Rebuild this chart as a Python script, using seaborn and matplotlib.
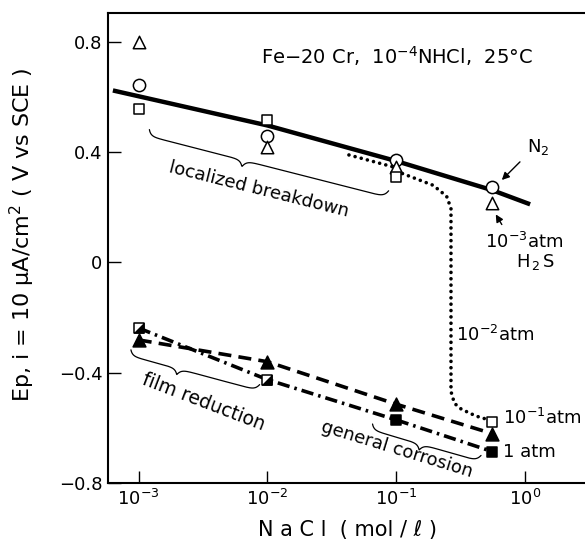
import numpy as np
import pandas as pd
import matplotlib
matplotlib.use("Agg")
import matplotlib.pyplot as plt
from matplotlib.ticker import FixedLocator, NullLocator
import seaborn as sns

# ---------------- data ----------------
nacl = [1e-3, 1e-2, 1e-1, 0.56]                    # NaCl (mol/l)
n2_ep = [0.645, 0.46, 0.37, 0.273]                 # N2, open circles
h2s_1e3_ep = [0.80, 0.42, 0.345, 0.215]            # 1e-3 atm H2S, open triangles
h2s_1e2_ep = [0.555, 0.515, 0.31, -0.58]           # 1e-2 atm H2S, open squares
h2s_1e1_ep = [-0.281, -0.36, -0.514, -0.621]       # 1e-1 atm H2S, filled triangles
h2s_1_ep = [-0.238, -0.425, -0.571, -0.686]        # 1 atm H2S, squares

# N2 / 1e-3 atm regression line
n2_line_x = [6.3e-4, 1e-2, 1e-1, 0.56, 1.1]
n2_line_y = [0.624, 0.497, 0.368, 0.262, 0.211]
# 1e-2 atm transition curve (dotted)
dot_x = [0.043, 0.0926, 0.11, 0.194, 0.247, 0.267, 0.267, 0.284, 0.321, 0.417, 0.525, 0.56]
dot_y = [0.39, 0.348, 0.324, 0.28, 0.24, 0.196, -0.468, -0.511, -0.532, -0.557, -0.571, -0.58]

x_ticks = [1e-3, 1e-2, 1e-1, 1.0]
x_tick_labels = [r"$10^{-3}$", r"$10^{-2}$", r"$10^{-1}$", r"$10^{0}$"]
y_ticks = [0.8, 0.4, 0.0, -0.4, -0.8]
y_tick_labels = ["0.8", "0.4", "0", "\u22120.4", "\u22120.8"]

# ---------------- style ----------------
sns.set_style("ticks")
plt.rcParams["font.family"] = ["DejaVu Sans"]
plt.rcParams["mathtext.fontset"] = "dejavusans"
plt.rcParams["text.color"] = "black"
plt.rcParams["axes.labelcolor"] = "black"
plt.rcParams["xtick.color"] = "black"
plt.rcParams["ytick.color"] = "black"

fig = plt.figure(figsize=(5.85, 5.41), dpi=100)
ax = fig.add_axes([0.1846, 0.1072, 0.8154, 0.8688])
ax.set_xscale("log")
ax.set_xlim(5.77e-4, 2.937)
ax.set_ylim(-0.8, 0.905)

K = "black"
LW = 2.6

def line(x, y, **kw):
    df = pd.DataFrame({"x": x, "y": y})
    sns.lineplot(data=df, x="x", y="y", ax=ax, sort=False, estimator=None,
                 color=K, zorder=2, **kw)

line(n2_line_x, n2_line_y, linewidth=3.2, solid_capstyle="butt")
line(dot_x, dot_y, linewidth=2.6, linestyle=(0, (0.01, 1.75)), dash_capstyle="round")
line(nacl, h2s_1e1_ep, linewidth=LW, linestyle=(0, (3.6, 2.0)))
line(nacl, h2s_1_ep, linewidth=LW, linestyle=(0, (3.4, 1.4, 0.7, 1.4)))

def pts(x, y, marker, s, fill):
    sns.scatterplot(x=x, y=y, ax=ax, marker=marker, s=s, color=fill,
                    edgecolor=K, linewidth=1.1, zorder=5)

pts(nacl, n2_ep, "o", 78, "white")
pts(nacl, h2s_1e3_ep, "^", 80, "white")
pts(nacl, h2s_1e2_ep, "s", 55, "white")
pts(nacl, h2s_1e1_ep, "^", 85, K)
pts(nacl[:2], h2s_1_ep[:2], "s", 55, "white")
pts(nacl[:2], h2s_1_ep[:2], [(1, 1), (1, -1), (-1, -1)], 55, K)
pts(nacl[2:], h2s_1_ep[2:], "s", 60, K)

# ---------------- braces ----------------
def brace(p0, p1, frac, depth, r=3.0):
    A = ax.transData.transform(p0)
    B = ax.transData.transform(p1)
    d = B - A
    L = np.hypot(*d)
    eu = d / L
    en = np.array([eu[1], -eu[0]])
    c = frac * L
    u = np.linspace(0, L, 500)
    v = np.where(u <= c,
                 0.5 * depth * (1 - np.exp(-u / r)) + 0.5 * depth * np.exp(-(c - u) / r),
                 0.5 * depth * (1 - np.exp(-(L - u) / r)) + 0.5 * depth * np.exp(-(u - c) / r))
    P = A + np.outer(u, eu) + np.outer(v, en)
    D = ax.transData.inverted().transform(P)
    sns.lineplot(x=D[:, 0], y=D[:, 1], ax=ax, sort=False, estimator=None,
                 color=K, linewidth=0.9, zorder=3)

brace((1.21e-3, 0.482), (0.0875, 0.26), 0.40, 13)
brace((8.7e-4, -0.317), (8.7e-3, -0.443), 0.38, 12)
brace((0.0656, -0.586), (0.457, -0.70), 0.46, 12)

# ---------------- text ----------------
FS = 13
ax.text(8.6e-3, 0.263, "localized breakdown", fontsize=FS, rotation=-14,
        ha="center", va="center", rotation_mode="anchor")
ax.text(3.2e-3, -0.505, "film reduction", fontsize=FS + 0.5, rotation=-21,
        ha="center", va="center", rotation_mode="anchor")
ax.text(0.102, -0.679, "general corrosion", fontsize=FS, rotation=-17,
        ha="center", va="center", rotation_mode="anchor")

ax.text(0.606, 0.9085, "Fe\u221220 Cr,  $10^{-4}$NHCl,  25\u00b0C", transform=ax.transAxes,
        fontsize=14, ha="center", va="center")

ax.text(1.27, 0.419, "N$_2$", fontsize=FS, ha="center", va="center")
ax.annotate("", xy=(0.64, 0.292), xytext=(0.95, 0.372),
            arrowprops=dict(arrowstyle="-|>", color=K, lw=1.0, mutation_scale=11))
ax.text(0.99, 0.074, "$10^{-3}$atm", fontsize=FS, ha="center", va="center")
ax.text(1.2, 0.002, "H$_{\\,2\\,}$S", fontsize=FS, ha="center", va="center")
ax.annotate("", xy=(0.58, 0.183), xytext=(0.68, 0.129),
            arrowprops=dict(arrowstyle="-|>", color=K, lw=1.0, mutation_scale=11))
ax.text(0.586, -0.263, "$10^{-2}$atm", fontsize=FS, ha="center", va="center")
ax.text(0.68, -0.564, "$10^{-1}$atm", fontsize=FS, ha="left", va="center")
ax.text(0.68, -0.688, "1 atm", fontsize=FS, ha="left", va="center")

# ---------------- axes ----------------
ax.xaxis.set_major_locator(FixedLocator(x_ticks))
ax.xaxis.set_minor_locator(NullLocator())
ax.set_xticklabels(x_tick_labels)
ax.yaxis.set_major_locator(FixedLocator(y_ticks))
ax.set_yticklabels(y_tick_labels)
ax.tick_params(direction="in", length=9, width=1.0, labelsize=13, pad=4,
               colors=K, labelcolor=K)

ax.set_xlabel("N a C l  ( mol / \u2113 )", fontsize=15, va="center", color=K)
ax.xaxis.set_label_coords(0.503, -0.10)
ax.set_ylabel("Ep, i = 10 \u03bcA/cm$^2$ ( V vs SCE )", fontsize=16, va="center", color=K)
ax.yaxis.set_label_coords(-0.18, 0.528)

for side in ["left", "bottom", "top"]:
    ax.spines[side].set_linewidth(1.5)
    ax.spines[side].set_color(K)
ax.spines["right"].set_visible(False)

fig.savefig("out.png", dpi=100)
